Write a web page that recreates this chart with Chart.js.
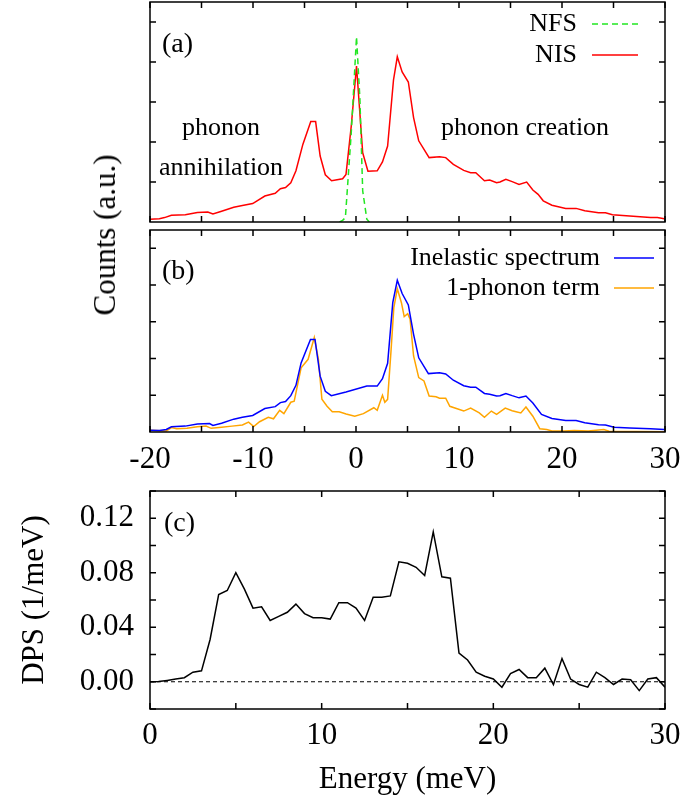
<!DOCTYPE html>
<html><head><meta charset="utf-8">
<script src="https://cdn.jsdelivr.net/npm/chart.js@4.4.0/dist/chart.umd.min.js"></script>
<style>
html,body{margin:0;padding:0;background:#fff;}
#wrap{position:relative;width:681px;height:804px;overflow:hidden;background:#fff;}
canvas{position:absolute;left:0;top:0;}
#counts{position:absolute;left:105px;top:235px;transform:translate(-50%,-50%) rotate(-90deg);font:31px "Liberation Serif";white-space:nowrap;color:#000;}
</style></head>
<body><div id="wrap">
<canvas id="ca" width="681" height="804"></canvas>
<canvas id="cb" width="681" height="804"></canvas>
<canvas id="cc" width="681" height="804"></canvas>
<div id="counts">Counts (a.u.)</div>
</div>
<script>
// ---------- data ----------
const nisE = [-20.0,-19.09,-18.59,-17.92,-16.57,-15.40,-14.39,-13.89,-13.05,-11.87,-11.03,-10.03,-8.85,-7.84,-7.34,-6.84,-6.33,-5.83,-5.16,-4.39,-3.92,-3.48,-2.98,-2.37,-1.30,-0.97,-0.46,0.05,0.65,1.16,2.06,2.57,3.07,3.64,4.01,4.48,5.08,5.59,6.09,7.10,8.11,8.71,9.45,10.46,11.13,11.63,12.47,12.98,13.65,13.98,14.55,15.16,15.83,16.57,17.17,17.68,18.18,19.02,20.36,21.37,22.21,23.55,24.22,24.90,26.57,28.59,29.26,29.93];
const nisCounts = [0.07,0.08,0.11,0.17,0.18,0.24,0.25,0.20,0.27,0.37,0.41,0.46,0.65,0.72,0.83,0.86,0.98,1.28,1.94,2.51,2.51,1.65,1.18,1.03,1.08,1.19,2.40,3.90,1.73,1.27,1.28,1.50,1.90,3.55,4.13,3.75,3.50,2.61,2.03,1.61,1.63,1.61,1.44,1.29,1.23,1.23,1.03,1.05,0.98,1.00,1.07,1.01,0.94,1.00,0.80,0.69,0.53,0.42,0.34,0.34,0.28,0.23,0.23,0.18,0.15,0.11,0.11,0.08];

const nfsE = [-1.6,-1.30,-1.03,-0.46,0.05,0.38,0.65,1.05,1.3];
const nfsCounts = [0,0.04,0.11,2.23,4.63,3.07,0.78,0.07,0];

const inelE = [-20.00,-19.09,-18.42,-17.92,-16.57,-15.40,-14.22,-13.89,-13.05,-11.87,-11.03,-10.03,-8.85,-7.84,-7.34,-6.84,-6.33,-5.83,-5.33,-4.42,-3.98,-3.48,-2.98,-2.40,-0.97,1.05,2.06,2.57,3.07,3.57,4.01,4.48,5.08,5.59,6.09,7.03,8.11,8.71,9.45,10.46,11.13,11.63,12.47,12.98,13.65,13.98,14.55,15.16,15.83,16.50,17.17,18.01,19.02,20.36,21.37,22.21,23.55,24.22,25.06,26.57,28.59,29.93];
const inelCounts = [0.05,0.04,0.07,0.14,0.16,0.22,0.23,0.18,0.24,0.35,0.40,0.45,0.64,0.69,0.80,0.83,0.99,1.27,1.88,2.52,2.52,1.52,1.11,0.99,1.09,1.25,1.25,1.45,1.87,3.52,4.13,3.77,3.46,2.66,2.02,1.59,1.61,1.58,1.41,1.26,1.22,1.22,1.05,1.03,0.98,0.99,1.05,0.99,0.93,0.98,0.79,0.48,0.37,0.31,0.31,0.25,0.20,0.19,0.13,0.11,0.09,0.07];

const oneE = [-20.00,-18.42,-17.92,-17.41,-16.41,-15.40,-14.56,-14.06,-13.05,-12.04,-11.03,-10.43,-9.93,-9.36,-8.52,-8.01,-7.41,-7.00,-6.33,-6.00,-5.33,-4.65,-4.05,-3.65,-3.31,-2.81,-2.30,-1.63,-0.96,-0.12,0.72,1.73,2.06,2.57,2.80,3.07,3.41,3.67,4.01,4.41,4.68,5.02,5.25,5.59,6.09,6.60,7.10,7.77,8.11,8.71,9.11,10.46,11.13,11.97,12.47,13.14,13.65,14.49,15.16,16.00,16.50,17.17,17.84,18.52,19.02,20.19,21.20,22.55,24.06,24.56,29.93];
const oneCounts = [0.05,0.03,0.12,0.09,0.10,0.14,0.16,0.10,0.13,0.16,0.19,0.27,0.15,0.28,0.40,0.36,0.59,0.50,0.81,0.84,1.75,1.98,2.57,1.98,0.89,0.70,0.55,0.55,0.49,0.43,0.50,0.66,0.59,1.00,0.81,0.89,2.25,3.38,3.90,3.52,3.14,3.22,3.07,2.07,1.48,1.39,0.98,0.96,0.92,0.92,0.70,0.57,0.65,0.52,0.40,0.57,0.48,0.65,0.58,0.52,0.68,0.43,0.09,0.07,0.03,0.03,0.04,0.03,0.07,0.02,0.01];

const dpsE = [0,0.5,1,1.5,2,2.5,3,3.5,4,4.5,5,5.5,6,6.5,7,7.5,8,8.5,9,9.5,10,10.5,11,11.5,12,12.5,13,13.5,14,14.5,15,15.5,16,16.5,17,17.5,18,18.5,19,19.5,20,20.5,21,21.5,22,22.5,23,23.5,24,24.5,25,25.5,26,26.5,27,27.5,28,28.5,29,29.5,30];
const dpsValues = [0,0.0001,0.001,0.002,0.003,0.007,0.008,0.031,0.064,0.067,0.080,0.068,0.054,0.055,0.045,0.048,0.051,0.057,0.050,0.047,0.047,0.046,0.058,0.058,0.054,0.045,0.062,0.062,0.063,0.088,0.087,0.084,0.078,0.110,0.077,0.076,0.021,0.016,0.007,0.004,0.002,-0.004,0.006,0.009,0.003,0.003,0.010,-0.002,0.017,0.002,-0.002,-0.004,0.007,0.003,-0.002,0.002,0.0015,-0.0065,0.002,0.003,-0.004];

const zeroLineE = [0, 30];
const zeroLineV = [0, 0];

const countTicks = [1, 2, 3, 4, 5];

// ---------- helpers ----------
const pts = (xs, ys) => xs.map((x, i) => ({x, y: ys[i]}));
const SERIF = '"Liberation Serif", "Times New Roman", serif';

const framePlugin = {
  id: 'frame',
  afterDatasetsDraw(chart, args, opts) {
    const {ctx, chartArea: a, scales} = chart;
    ctx.save();
    ctx.strokeStyle = '#000';
    ctx.lineWidth = 1.5;
    const L = 6;
    ctx.beginPath();
    scales.x.ticks.forEach(t => {
      const p = scales.x.getPixelForValue(t.value);
      ctx.moveTo(p, a.bottom); ctx.lineTo(p, a.bottom - L);
      ctx.moveTo(p, a.top); ctx.lineTo(p, a.top + L);
    });
    scales.y.ticks.forEach(t => {
      const p = scales.y.getPixelForValue(t.value);
      ctx.moveTo(a.left, p); ctx.lineTo(a.left + L, p);
      ctx.moveTo(a.right, p); ctx.lineTo(a.right - L, p);
    });
    ctx.stroke();
    ctx.strokeRect(a.left, a.top, a.right - a.left, a.bottom - a.top);
    ctx.fillStyle = '#000';
    ctx.textBaseline = 'middle';
    (opts.texts || []).forEach(t => {
      ctx.font = t.size + 'px ' + SERIF;
      ctx.textAlign = t.align || 'center';
      ctx.fillText(t.text, t.x, t.y);
    });
    (opts.legend || []).forEach(l => {
      const ds = chart.data.datasets[l.index];
      ctx.font = l.size + 'px ' + SERIF;
      ctx.textAlign = 'right';
      ctx.fillStyle = '#000';
      ctx.fillText(ds.label, l.textRight, l.y);
      ctx.beginPath();
      ctx.strokeStyle = ds.borderColor;
      ctx.lineWidth = ds.borderWidth;
      ctx.setLineDash(ds.borderDash || []);
      ctx.moveTo(l.x1, l.y); ctx.lineTo(l.x2, l.y);
      ctx.stroke();
      ctx.setLineDash([]);
    });
    ctx.restore();
  }
};

function lineDs(label, xs, ys, color, dash, width) {
  return {label, data: pts(xs, ys), borderColor: color, borderWidth: width || 1.5,
    borderDash: dash || [], pointRadius: 0, tension: 0, fill: false};
}

function baseOpts(cfg) {
  return {
    responsive: false, animation: false, devicePixelRatio: 1,
    layout: {padding: cfg.padding},
    plugins: {legend: {display: false}, tooltip: {enabled: false}, frame: cfg.frame},
    scales: {
      x: {
        type: 'linear', min: cfg.xmin, max: cfg.xmax,
        grid: {display: false, drawTicks: false}, border: {display: false},
        ticks: {stepSize: 5, display: cfg.xlabels, padding: cfg.xpad || 8,
          font: {family: SERIF, size: 31}, color: '#000', maxRotation: 0, autoSkip: false,
          callback: v => (Math.round(v) % 10 === 0 ? String(Math.round(v)) : '')},
        title: cfg.xtitle ? {display: true, text: cfg.xtitle, font: {family: SERIF, size: 31}, color: '#000', padding: {top: 0, bottom: 6}} : {display: false},
        afterFit: s => { s.height = cfg.xh; s.paddingLeft = 0; s.paddingRight = 0; }
      },
      y: cfg.y
    }
  };
}

Chart.register(framePlugin);

// ---------- (a) ----------
new Chart(document.getElementById('ca'), {
  type: 'line',
  data: {datasets: [
    lineDs('NFS', nfsE, nfsCounts, '#22e622', [6, 4]),
    lineDs('NIS', nisE, nisCounts, '#ff0000')
  ]},
  options: baseOpts({
    padding: {left: 0, top: 2, right: 16, bottom: 0},
    xmin: -20, xmax: 30, xlabels: false, xh: 804 - 222,
    y: {type: 'linear', min: 0, max: 5.5, grid: {display: false, drawTicks: false}, border: {display: false},
      ticks: {display: false}, afterBuildTicks: s => { s.ticks = countTicks.map(v => ({value: v})); },
      afterFit: s => { s.width = 150; s.paddingTop = 0; s.paddingBottom = 0; }},
    frame: {
      texts: [
        {text: '(a)', x: 162, y: 45, size: 28, align: 'left'},
        {text: 'phonon', x: 221, y: 128, size: 26},
        {text: 'annihilation', x: 221, y: 168, size: 26},
        {text: 'phonon creation', x: 525, y: 128, size: 26}
      ],
      legend: [
        {index: 0, textRight: 577, y: 24, x1: 592, x2: 638, size: 26},
        {index: 1, textRight: 577, y: 55, x1: 592, x2: 638, size: 26}
      ]
    }
  })
});

// ---------- (b) ----------
new Chart(document.getElementById('cb'), {
  type: 'line',
  data: {datasets: [
    lineDs('Inelastic spectrum', inelE, inelCounts, '#0000ff'),
    lineDs('1-phonon term', oneE, oneCounts, '#ffa500')
  ]},
  options: baseOpts({
    padding: {left: 0, top: 230, right: 16, bottom: 0},
    xmin: -20, xmax: 30, xlabels: true, xh: 804 - 432, xpad: 9,
    y: {type: 'linear', min: 0, max: 5.5, grid: {display: false, drawTicks: false}, border: {display: false},
      ticks: {display: false}, afterBuildTicks: s => { s.ticks = countTicks.map(v => ({value: v})); },
      afterFit: s => { s.width = 150; s.paddingTop = 0; s.paddingBottom = 0; }},
    frame: {
      texts: [{text: '(b)', x: 162, y: 272, size: 28, align: 'left'}],
      legend: [
        {index: 0, textRight: 600, y: 258, x1: 614, x2: 654, size: 26},
        {index: 1, textRight: 600, y: 288, x1: 614, x2: 654, size: 26}
      ]
    }
  })
});

// ---------- (c) ----------
new Chart(document.getElementById('cc'), {
  type: 'line',
  data: {datasets: [
    lineDs('DPS', dpsE, dpsValues, '#000000'),
    lineDs('zero', zeroLineE, zeroLineV, '#000000', [4, 3], 1)
  ]},
  options: baseOpts({
    padding: {left: 0, top: 491, right: 16, bottom: 0},
    xmin: 0, xmax: 30, xlabels: true, xh: 804 - 709, xpad: 8, xtitle: 'Energy (meV)',
    y: {type: 'linear', min: -0.02, max: 0.14, grid: {display: false, drawTicks: false}, border: {display: false},
      ticks: {stepSize: 0.02, padding: 16, autoSkip: false, font: {family: SERIF, size: 31}, color: '#000',
        callback: v => { const k = Math.round(v * 100); return (k % 4 === 0 && k >= 0) ? (k / 100).toFixed(2) : ''; }},
      title: {display: true, text: 'DPS (1/meV)', font: {family: SERIF, size: 31}, color: '#000', padding: {top: 16, bottom: 0}},
      afterFit: s => { s.width = 150; s.paddingTop = 0; s.paddingBottom = 0; }},
    frame: {
      texts: [{text: '(c)', x: 164, y: 524, size: 28, align: 'left'}],
      legend: []
    }
  })
});
</script>
</body></html>
